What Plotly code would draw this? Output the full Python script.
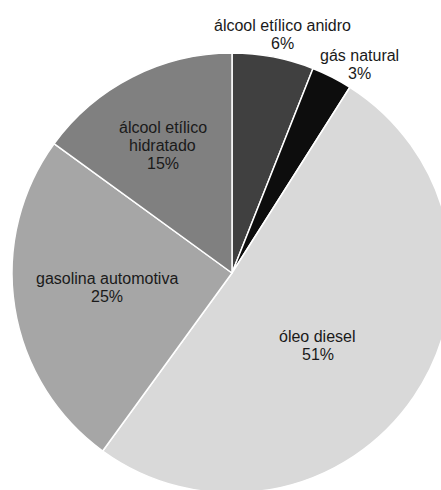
import math
import plotly.graph_objects as go

labels = ["álcool etílico anidro", "gás natural", "óleo diesel", "gasolina automotiva", "álcool etílico hidratado"]
label_lines = [["álcool etílico anidro"], ["gás natural"], ["óleo diesel"], ["gasolina automotiva"], ["álcool etílico", "hidratado"]]
values = [6, 3, 51, 25, 15]
colors = ["#404040", "#0d0d0d", "#d9d9d9", "#a6a6a6", "#808080"]

# label placement (fraction of radius, angle adjustment in degrees)
label_rfrac = [1.11, 1.11, 0.51, 0.57, 0.66]
label_dang = [1.2, 4.5, 6.0, 2.5, -1.5]

W, H = 470, 500
cx, cy, r = 232, 273, 220
FONT = "Liberation Sans, Arial, sans-serif"
FS = 16
LINE = 18

fig = go.Figure(go.Pie(
    labels=labels,
    values=values,
    textinfo="none",
    sort=False,
    direction="clockwise",
    rotation=0,
    marker=dict(colors=colors, line=dict(color="white", width=1.5)),
    showlegend=False,
    domain=dict(x=[(cx - r) / W, (cx + r) / W], y=[1 - (cy + r) / H, 1 - (cy - r) / H]),
    hoverinfo="label+percent",
))

total = sum(values)
cum = 0
annotations = []
for i, v in enumerate(values):
    mid = (cum + v / 2) / total * 360 + label_dang[i]
    cum += v
    rad = math.radians(mid)
    px = cx + math.sin(rad) * r * label_rfrac[i]
    py = cy - math.cos(rad) * r * label_rfrac[i]
    lines = label_lines[i] + [f"{round(v / total * 100)}%"]
    n = len(lines)
    for j, t in enumerate(lines):
        off = (j - (n - 1) / 2) * LINE
        annotations.append(dict(
            x=px / W, y=1 - (py + off) / H, xref="paper", yref="paper",
            text=t, showarrow=False, xanchor="center", yanchor="middle",
            font=dict(family=FONT, size=FS, color="#1a1a1a"),
        ))

fig.update_layout(
    width=W, height=H,
    margin=dict(l=0, r=0, t=0, b=0),
    paper_bgcolor="white",
    plot_bgcolor="white",
    annotations=annotations,
)

fig.write_html("out.html")
